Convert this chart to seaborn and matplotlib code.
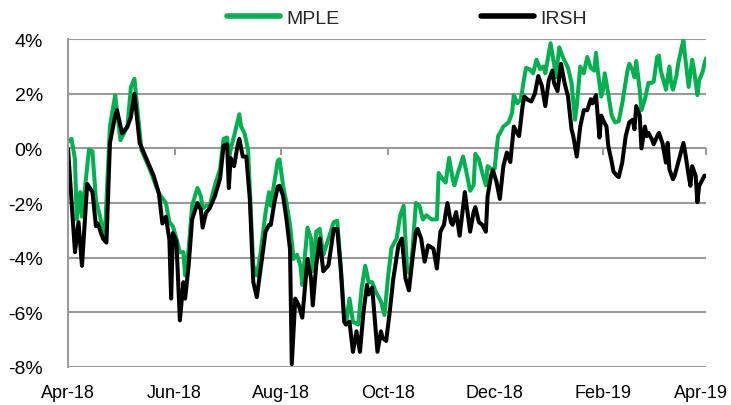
import pandas as pd
import numpy as np
import matplotlib
matplotlib.use('Agg')
import matplotlib.pyplot as plt
import matplotlib.dates as mdates
import matplotlib.ticker as mticker
import matplotlib.transforms as mtransforms
from matplotlib.lines import Line2D
import seaborn as sns

#data, days counted from start date, values in %
start = '2018-04-01'
mple_days = [0, 2, 4, 5, 7, 8, 12, 14, 16, 18, 20, 21, 24, 27, 30, 34, 36, 38, 42, 47, 52, 56, 58, 60, 62, 64, 66, 67, 69, 71,
             74, 76, 77, 79, 81, 84, 87, 89, 91, 92, 93, 95, 98, 99, 101, 103, 104, 106, 108, 110, 113, 115, 116, 118, 120,
             121, 123, 125, 127, 129, 131, 133, 134, 137, 139, 140, 142, 144, 146, 149, 152, 154, 156, 158, 159, 161, 163,
             166, 168, 170, 172, 174, 176, 179, 181, 183, 185, 188, 190, 192, 194, 196, 199, 201, 203, 205, 208, 211, 212,
             214, 216, 218, 220, 221, 223, 226, 228, 230, 232, 233, 235, 237, 239, 240, 242, 244, 246, 247, 249, 252, 254,
             255, 257, 259, 261, 262, 264, 266, 268, 270, 272, 273, 276, 278, 279, 281, 283, 286, 288, 290, 291, 293, 295,
             297, 299, 301, 302, 303, 305, 306, 307, 309, 311, 313, 315, 317, 320, 321, 323, 324, 325, 327, 328, 330, 332,
             334, 335, 337, 338, 339, 341, 342, 344, 345, 346, 348, 349, 351, 352, 353, 355, 357, 358, 360, 361, 363, 364, 365]
mple = [0.25, 0.35, -0.4, -2.6, -1.6, -2.5, -0.05, -0.1, -1.9, -2.4, -3.0, -3.3, 0.8, 1.95, 0.3, 0.8, 2.25, 2.55, -0.05, -0.8,
        -1.65, -2.0, -2.7, -2.85, -3.3, -3.8, -3.8, -4.65, -3.7, -2.1,
        -1.45, -1.75, -2.2, -2.1, -2.1, -1.35, -0.75, 0.35, 0.4, -0.4, -0.05, 0.45, 1.25, 0.8, 0.55, -0.05, -1.5, -4.3, -4.65,
        -3.9, -2.35, -1.6, -2.1, -1.25, -0.45,
        -0.4, -1.35, -2.0, -2.8, -4.05, -3.9, -4.3, -5.0, -2.9, -3.3, -4.5, -3.05, -2.95, -3.9, -3.3, -2.7, -2.65, -4.3,
        -6.2, -6.45, -5.5, -6.35,
        -6.45, -5.1, -4.3, -4.9, -4.9, -5.25, -5.6, -6.1, -4.75, -3.65, -3.3, -2.45, -2.1, -4.5, -4.6, -2.0, -2.1, -2.6,
        -2.45, -2.6, -2.6, -0.9,
        -1.1, -1.25, -0.35, -1.1, -1.35, -0.9, -0.3, -0.9, -1.55, -1.35, -0.2, -0.4, -0.9, -1.35, -0.65, -0.75, -0.75,
        0.45, 0.55, 0.8, 0.95, 1.3,
        1.95, 1.65, 1.8, 2.6, 2.95, 2.9, 2.75, 3.25, 2.9, 3.0, 2.75, 3.85, 3.1, 2.6, 3.7, 3.35, 2.95, 2.4, 1.05, 1.55,
        3.0, 2.75,
        3.35, 2.95, 2.85, 3.5, 2.85, 1.9, 2.15, 2.75, 2.0, 1.2, 0.95, 1.0, 1.65, 2.85, 3.1, 2.85, 2.6, 3.2, 2.15, 1.4,
        1.8, 2.4,
        2.4, 2.45, 3.35, 3.4, 2.85, 2.4, 2.15, 3.0, 2.4, 2.15, 2.65, 3.1, 3.7, 3.95, 3.35, 2.25, 3.25, 2.9, 1.95, 2.5,
        2.8, 3.1, 3.3]

irsh_days = [0, 4, 6, 8, 11, 14, 16, 17, 20, 22, 24, 27, 28, 31, 34, 36, 38, 41, 45, 49, 52, 54, 56, 58, 59, 60, 62, 64,
             66, 67, 69, 71, 74, 76, 77, 79, 81, 84, 87, 89, 91, 92, 93, 95, 97, 98, 100, 102, 104, 106, 108, 110, 113,
             115, 116, 118, 120, 121, 123, 125, 127, 128, 130, 132, 134, 137, 139, 140, 142, 144, 146, 149, 152, 154, 156,
             158, 159, 161, 163, 165, 167, 169, 171, 172, 174, 177, 179, 180, 182, 184, 186, 189, 191, 193, 195, 197, 199,
             200, 202, 204, 206, 209, 211, 213, 215, 217, 219, 220, 222, 224, 227, 228, 230, 232, 233, 235, 237, 239, 240,
             242, 243, 245, 247, 249, 251, 253, 255, 257, 258, 260, 261, 263, 265, 267, 269, 271, 273, 275, 277, 278, 280,
             282, 284, 286, 288, 289, 291, 293, 295, 297, 299, 300, 302, 304, 305, 306, 308, 309, 311, 312, 314, 315, 317,
             319, 321, 323, 324, 325, 327, 328, 330, 331, 332, 334, 335, 337, 338, 340, 342, 343, 344, 346, 347, 349, 352,
             353, 355, 356, 357, 359, 360, 361, 363, 364, 365]
irsh = [0.0, -3.8, -2.7, -4.3, -1.3, -1.6, -2.85, -2.75, -3.3, -3.45, 0.2, 1.2, 1.4, 0.55, 0.8, 1.15, 2.0, 0.2, -0.4, -1.0,
        -1.65, -2.75, -2.5, -3.35, -5.5, -3.1, -3.4, -6.3,
        -4.9, -5.5, -4.3, -2.6, -2.0, -2.25, -2.9, -2.35, -2.2, -1.75, -1.1, 0.1, 0.15, -1.45, -0.35, -0.65, 0.1, 0.35,
        -0.3, -0.3, -1.85, -4.9, -5.45, -4.5, -3.05,
        -2.8, -2.8, -2.0, -1.4, -1.37, -1.73, -2.6, -3.7, -7.9, -5.5, -5.75, -6.2, -4.05, -4.75, -5.75, -4.28, -3.3,
        -4.5, -4.28, -2.95, -2.95, -4.4,
        -6.35, -6.45, -6.35, -7.45, -6.7, -7.45, -6.0, -5.0, -5.35, -5.1, -7.45, -6.7, -6.95, -7.05, -6.0, -4.8, -3.55,
        -3.3, -4.75, -5.2, -4.05, -3.05,
        -2.95, -3.3, -4.15, -3.55, -3.67, -4.4, -3.05, -2.8, -2.0, -2.7, -2.8, -2.33, -3.2, -1.6, -2.1, -3.05, -2.33,
        -2.15, -2.7, -2.8, -3.05, -1.75,
        -1.0, -0.8, -1.2, -1.85, -0.65, -0.15, -0.5, 0.8, 0.55, 0.45, 1.55, 1.9, 1.78, 1.72, 2.0, 2.65, 2.3, 1.55, 2.5,
        2.85, 2.4, 2.1,
        3.1, 2.4, 1.9, 0.7, 0.45, -0.3, 0.8, 1.4, 1.4, 1.8, 1.65, 1.95, 0.4, 1.2, 1.05, 0.8, 0.1, -0.5, -0.85, -1.0,
        -1.05, -0.52,
        0.45, 0.95, 1.05, 0.7, 1.55, 1.2, 0.0, 0.8, 0.45, 0.57, 0.33, 0.15, 0.45, 0.57, 0.2, -0.52, 0.2, -0.77, -1.13,
        -1.0, -0.52, 0.2,
        -0.15, -1.0, -1.37, -0.65, -1.0, -1.97, -1.37, -1.13, -1.0, -1.0]

series_names = ['MPLE', 'IRSH']
series_colors = {'MPLE': '#00B050', 'IRSH': '#000000'}
tick_dates = ['2018-04-01', '2018-06-01', '2018-08-01', '2018-10-01', '2018-12-01', '2019-02-01', '2019-04-01']
y_ticks = [-8, -6, -4, -2, 0, 2, 4]

#long form df for seaborn
t0 = pd.Timestamp(start)
df_m = pd.DataFrame({'date': t0 + pd.to_timedelta(mple_days, unit='D'), 'value': mple, 'series': 'MPLE'})
df_i = pd.DataFrame({'date': t0 + pd.to_timedelta(irsh_days, unit='D'), 'value': irsh, 'series': 'IRSH'})
df = pd.concat([df_m, df_i], ignore_index=True)

sns.set_theme(style='white')
plt.rcParams['font.family'] = ['Liberation Sans', 'DejaVu Sans']

grid_col = '#9A9A9A'
fig, ax = plt.subplots(figsize=(7.31, 4.06), dpi=100)
fig.subplots_adjust(left=0.093, right=0.966, top=0.901, bottom=0.094)

sns.lineplot(data=df, x='date', y='value', hue='series', hue_order=series_names,
             palette=series_colors, linewidth=2.9, ax=ax, legend=False)

#axes styling
ax.set_ylim(-8, 4)
ax.set_xlim(pd.Timestamp(tick_dates[0]), pd.Timestamp(tick_dates[-1]))
ax.set_yticks(y_ticks)
ax.yaxis.set_major_formatter(mticker.FuncFormatter(lambda v, p: f'{v:.0f}%'))
ax.set_xticks(pd.to_datetime(tick_dates))
ax.xaxis.set_major_formatter(mdates.DateFormatter('%b-%y'))
ax.yaxis.grid(True, color=grid_col, linewidth=1.5)
ax.set_axisbelow(True)
for s in ['top', 'right', 'bottom']:
    ax.spines[s].set_visible(False)
ax.spines['left'].set_color(grid_col)
ax.spines['left'].set_linewidth(1.5)
ax.tick_params(axis='y', length=8, width=1.5, color=grid_col, direction='out', labelsize=14, pad=10, labelcolor='black')
ax.tick_params(axis='x', length=0, labelsize=13, pad=12, labelcolor='black')
ax.set_xlabel('')
ax.set_ylabel('')

#month tick marks sitting on the 0% line
sec = ax.secondary_xaxis(8 / 12)
sec.set_xticks(pd.to_datetime(tick_dates))
sec.tick_params(axis='x', direction='in', length=5, width=1.5, color=grid_col, labeltop=False, labelbottom=False)
sec.spines['top'].set_visible(False)
sec.spines['bottom'].set_visible(False)
sec.set_zorder(1)

handles = [Line2D([0], [0], color=series_colors[n], linewidth=4) for n in series_names]
fig.legend(handles, series_names, loc='center', bbox_to_anchor=(0.557, 0.953), ncol=2, frameon=False,
           fontsize=14, handlelength=2.7, handletextpad=0.35, columnspacing=7.3)

#nudge the last month label so it stays inside the picture
fig.canvas.draw()
last_lab = ax.get_xticklabels()[-1]
last_lab.set_transform(last_lab.get_transform() + mtransforms.ScaledTranslation(-4 / 72, 0, fig.dpi_scale_trans))

plt.savefig('out.png', dpi=100)
